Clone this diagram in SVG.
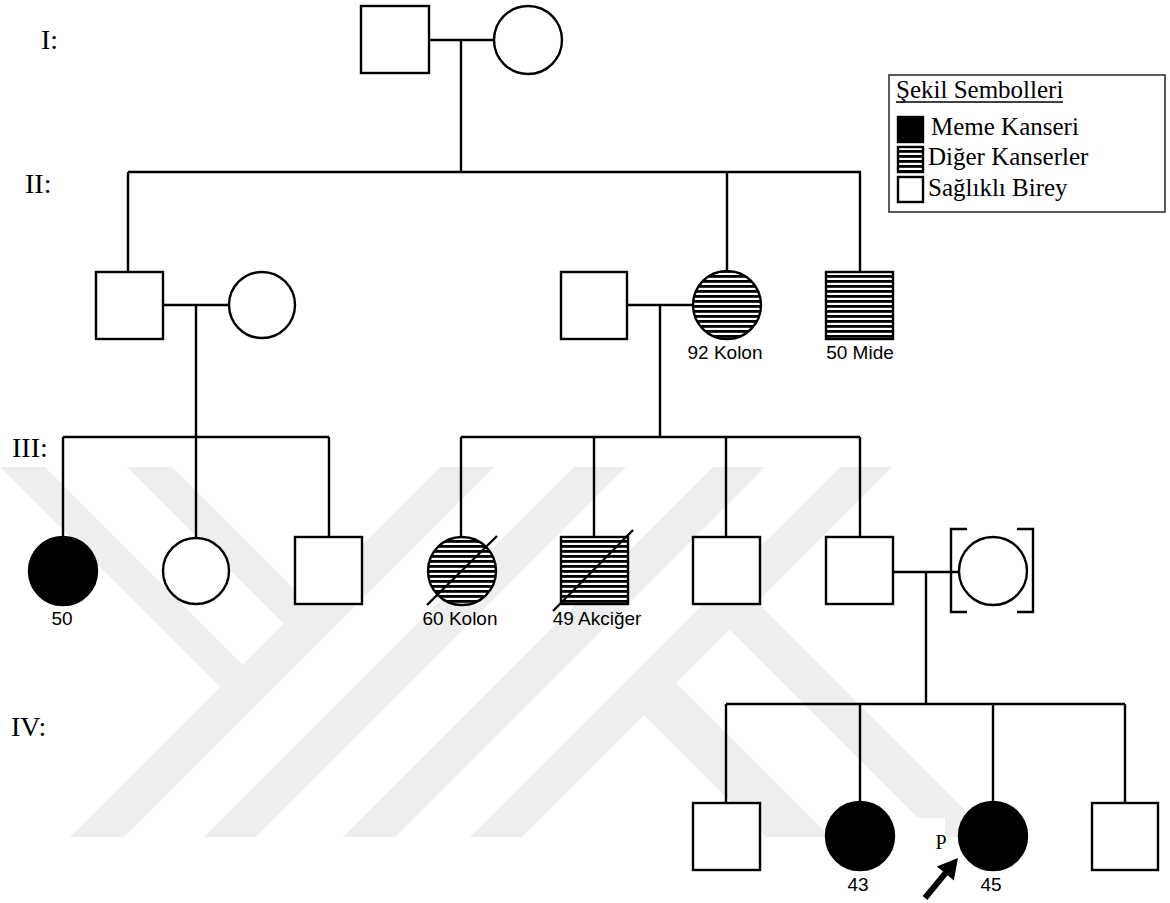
<svg xmlns="http://www.w3.org/2000/svg" width="1170" height="903" viewBox="0 0 1170 903">
<defs>
<pattern id="hatch" patternUnits="userSpaceOnUse" width="10" height="5">
<rect x="0" y="0" width="10" height="5" fill="#ffffff"/>
<rect x="0" y="0" width="10" height="2.8" fill="#000000"/>
</pattern>
<style>
.wm{fill:#eeeeee;stroke:none}
.ln{stroke:#000;stroke-width:2.4;fill:none}
.sh{stroke:#000;stroke-width:2.4;fill:#fff}
.aff{stroke:#000;stroke-width:2.4;fill:#000}
.hat{stroke:#000;stroke-width:2.4;fill:url(#hatch)}
.gen{font-family:"Liberation Serif","Times New Roman",serif;font-size:28px;fill:#000}
.lbl{font-family:"Liberation Sans",Arial,sans-serif;font-size:19px;fill:#000;text-anchor:middle}
.leg{font-family:"Liberation Serif","Times New Roman",serif;font-size:25px;fill:#000}
</style>
</defs>
<rect width="1170" height="903" fill="#ffffff"/>

<g id="watermark">
<polygon class="wm" points="70,837 124,837 494,467 440,467"/>
<polygon class="wm" points="0,467 45,467 242.5,664.5 220,687"/>
<polygon class="wm" points="127,467 172,467 306,601 283.5,623.5"/>
<polygon class="wm" points="204,837 256,837 626,467 574,467"/>
<polygon class="wm" points="343,837 395,837 765,467 713,467"/>
<polygon class="wm" points="470,837 522,837 892,467 840,467"/>
<polygon class="wm" points="676,683 644,715 766,837 830,837"/>
<polygon class="wm" points="757,602 729.5,629.5 937,837 992,837"/>
</g>

<g id="generation-labels">
<text class="gen" x="41" y="49">I:</text>
<text class="gen" x="25" y="193">II:</text>
<text class="gen" x="12" y="457">III:</text>
<text class="gen" x="11" y="736">IV:</text>
</g>

<g id="connectors">
<path class="ln" d="M429 40 H494 M461 40 V172 M128 172 H861 M128 172 V272 M727 172 V272 M860 172 V272"/>
<path class="ln" d="M163 305 H229 M196 305 V437 M63 437 H329 M63 437 V537 M196 437 V538 M329 437 V537"/>
<path class="ln" d="M627 305 H693 M660 305 V437 M461 437 H860 M461 437 V537 M594 437 V537 M726 437 V537 M860 437 V537"/>
<path class="ln" d="M893 572 H959 M926 572 V704 M726 704 H1125 M726 704 V803 M860 704 V802 M993 704 V802 M1125 704 V803"/>
</g>

<g id="I-1"><rect class="sh" x="361" y="6" width="68" height="67"/></g>
<g id="I-2"><circle class="sh" cx="528" cy="40" r="34"/></g>

<g id="II-1"><rect class="sh" x="96" y="272" width="67" height="67"/></g>
<g id="II-2"><circle class="sh" cx="262" cy="305" r="33"/></g>
<g id="II-3"><rect class="sh" x="561" y="272" width="66" height="67"/></g>
<g id="II-4"><circle class="hat" cx="727" cy="305" r="34"/><text class="lbl" x="725" y="359">92 Kolon</text></g>
<g id="II-5"><rect class="hat" x="826" y="272" width="67" height="67"/><text class="lbl" x="860" y="359">50 Mide</text></g>

<g id="III-1"><circle class="aff" cx="63" cy="571" r="34"/><text class="lbl" x="62" y="625">50</text></g>
<g id="III-2"><circle class="sh" cx="196" cy="571" r="33"/></g>
<g id="III-3"><rect class="sh" x="295" y="537" width="67" height="67"/></g>
<g id="III-4"><circle class="hat" cx="462" cy="571" r="34"/><line class="ln" x1="427" y1="605" x2="497" y2="536"/><text class="lbl" x="460" y="625">60 Kolon</text></g>
<g id="III-5"><rect class="hat" x="561" y="537" width="67" height="67"/><line class="ln" x1="553" y1="611" x2="633" y2="530"/><text class="lbl" x="597" y="625">49 Akciğer</text></g>
<g id="III-6"><rect class="sh" x="693" y="537" width="67" height="67"/></g>
<g id="III-7"><rect class="sh" x="826" y="537" width="67" height="67"/></g>
<g id="III-8"><circle class="sh" cx="993" cy="571" r="34"/><path class="ln" d="M967 529 H951 V612 H967 M1017 529 H1033 V612 H1017"/></g>

<g id="IV-1"><rect class="sh" x="693" y="803" width="67" height="67"/></g>
<g id="IV-2"><circle class="aff" cx="860" cy="836" r="34"/><text class="lbl" x="858" y="891">43</text></g>
<g id="IV-3"><circle class="aff" cx="993" cy="836" r="34"/><text class="lbl" x="991" y="891">45</text></g>
<g id="IV-4"><rect class="sh" x="1092" y="803" width="66" height="67"/></g>

<g id="proband">
<rect x="914" y="818" width="31" height="40" fill="#ffffff"/>
<text x="941" y="849" style="font-family:'Liberation Serif','Times New Roman',serif;font-size:20px;text-anchor:middle;fill:#000">P</text>
<polygon fill="#000" points="927.3,899.9 947.6,875.3 953.8,880.4 958,858 936.8,866.4 943,871.5 922.7,896.1"/>
</g>

<g id="legend">
<rect x="889" y="75" width="276" height="137" fill="#ffffff" stroke="#333" stroke-width="1.6"/>
<text class="leg" x="896" y="98">Şekil Sembolleri</text>
<line x1="896" y1="102" x2="1063" y2="102" stroke="#000" stroke-width="1.3"/>
<rect class="aff" x="898" y="117" width="25" height="25" stroke-width="2"/>
<text class="leg" x="931" y="135">Meme Kanseri</text>
<rect class="hat" x="898" y="147" width="25" height="25" stroke-width="2"/>
<text class="leg" x="928" y="165">Diğer Kanserler</text>
<rect class="sh" x="898" y="177" width="25" height="25" stroke-width="2"/>
<text class="leg" x="928" y="196">Sağlıklı Birey</text>
</g>
</svg>
